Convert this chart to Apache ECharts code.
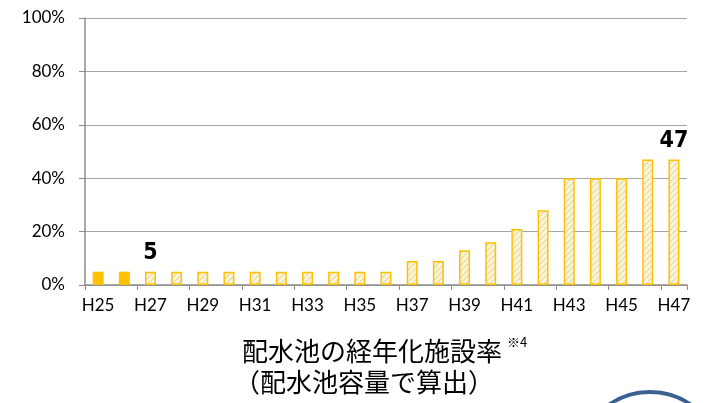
<!DOCTYPE html>
<html>
<head>
<meta charset="utf-8">
<script src="https://cdn.jsdelivr.net/npm/echarts@6/dist/echarts.min.js"></script>
<style>
  html, body { margin: 0; padding: 0; background: #fff; }
  #chart { width: 705px; height: 403px; }
</style>
</head>
<body>
<div id="chart"></div>
<script>
// Fiscal years (Heisei) on the category axis
const years = ['H25','H26','H27','H28','H29','H30','H31','H32','H33','H34','H35','H36',
               'H37','H38','H39','H40','H41','H42','H43','H44','H45','H46','H47'];
// Share of aged distribution reservoirs (%), by reservoir capacity
const rates = [5, 5, 5, 5, 5, 5, 5, 5, 5, 5, 5, 5,
               9, 9, 13, 16, 21, 28, 40, 40, 40, 47, 47];
// Years with recorded results (solid); the rest are projections (hatched)
const actualYears = ['H25', 'H26'];
// Years whose value is written above the bar
const labeledYears = ['H27', 'H47'];
// Y axis tick values
const yTicks = [0, 20, 40, 60, 80, 100];

const GOLD = '#ffc000';

// Diagonal hatch pattern for projected bars
function hatchPattern() {
  const c = document.createElement('canvas');
  c.width = 6; c.height = 6;
  const g = c.getContext('2d');
  g.fillStyle = '#fbf5d6';
  g.fillRect(0, 0, 6, 6);
  g.strokeStyle = '#e2d9aa';
  g.lineWidth = 1.2;
  g.beginPath();
  g.moveTo(-1, 7); g.lineTo(7, -1);
  g.moveTo(-4, 4); g.lineTo(4, -4);
  g.moveTo(2, 10); g.lineTo(10, 2);
  g.stroke();
  return c;
}
const hatch = { image: hatchPattern(), repeat: 'repeat' };

const barData = years.map((y, i) => {
  const actual = actualYears.includes(y);
  return {
    value: rates[i],
    itemStyle: actual
      ? { color: GOLD, borderColor: GOLD, borderWidth: 1 }
      : { color: hatch, borderColor: GOLD, borderWidth: 1.5 },
    label: { show: labeledYears.includes(y) }
  };
});

const chart = echarts.init(document.getElementById('chart'), null, { renderer: 'canvas' });
chart.setOption({
  animation: false,
  grid: { left: 85, right: 18, top: 18, bottom: 118, containLabel: false },
  xAxis: {
    type: 'category',
    data: years,
    axisLine: { lineStyle: { color: '#8c8c8c', width: 1.5 } },
    axisTick: { show: true, length: 5, lineStyle: { color: '#8c8c8c' } },
    axisLabel: {
      interval: 1,
      color: '#000',
      fontSize: 17,
      fontFamily: 'Lato',
      margin: 12
    }
  },
  yAxis: {
    type: 'value',
    min: yTicks[0],
    max: yTicks[yTicks.length - 1],
    interval: yTicks[1] - yTicks[0],
    axisLine: { show: true, lineStyle: { color: '#8c8c8c', width: 1.5 } },
    axisTick: { show: true, length: 6, lineStyle: { color: '#8c8c8c' } },
    splitLine: { lineStyle: { color: '#a6a6a6', width: 1.2 } },
    axisLabel: {
      formatter: '{value}%',
      color: '#000',
      fontSize: 17,
      fontFamily: 'Lato',
      margin: 20
    }
  },
  series: [{
    type: 'bar',
    data: barData,
    barWidth: 11,
    label: {
      position: 'top',
      distance: 7,
      color: '#000',
      fontSize: 23,
      fontWeight: 'bold',
      fontFamily: '"DejaVu Sans Condensed"',
      formatter: p => String(p.value)
    }
  }],
  graphic: [
    {
      type: 'text',
      left: 242, top: 338,
      style: {
        text: '配水池の経年化施設率',
        font: '26px "Noto Sans CJK JP"',
        fill: '#000'
      }
    },
    {
      type: 'text',
      left: 507, top: 336,
      style: {
        text: '※4',
        font: '13px "Noto Sans CJK JP"',
        fill: '#000'
      }
    },
    {
      type: 'text',
      left: 234, top: 369,
      style: {
        text: '（配水池容量で算出）',
        font: '26px "Noto Sans CJK JP"',
        fill: '#000'
      }
    },
    {
      type: 'circle',
      shape: { cx: 650, cy: 464, r: 72 },
      style: { fill: '#fff', stroke: '#3b6192', lineWidth: 4 }
    }
  ]
});
</script>
</body>
</html>
